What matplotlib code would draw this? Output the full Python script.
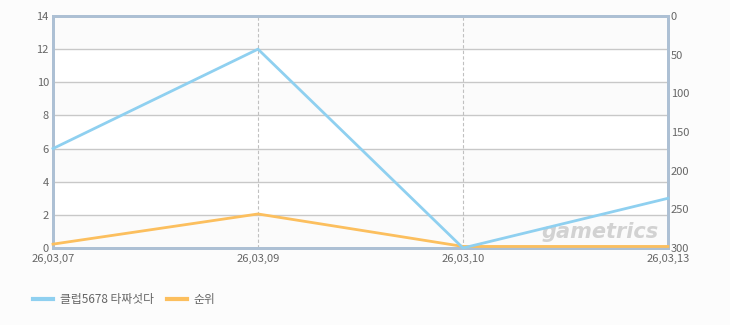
import matplotlib
matplotlib.use("Agg")
import matplotlib.pyplot as plt
from matplotlib.lines import Line2D

plt.rcParams['font.family'] = ['Noto Sans CJK KR', 'DejaVu Sans']

categories = ["26,03,07", "26,03,09", "26,03,10", "26,03,13"]
series_name = "클럽5678 타짜섯다"
series_values = [6, 12, 0, 3]
rank_name = "순위"
rank_values = [295, 256, 298, 298]
left_ticks = [0, 2, 4, 6, 8, 10, 12, 14]
right_ticks = [0, 50, 100, 150, 200, 250, 300]

blue = "#8fd0f0"
orange = "#fcbf5e"
spine_c = "#adc0d4"
txt_c = "#666666"

fig = plt.figure(figsize=(7.3, 3.25), dpi=100, facecolor="#fcfcfc")
ax = fig.add_axes([53/730, 1-248/325, 615/730, 232/325])
ax.set_facecolor("#fbfbfb")
x = list(range(len(categories)))
ax.set_xlim(0, len(categories)-1)
ax.set_ylim(0, 14)

for i in range(0, 14, 2):
    if (i // 2) % 2 == 1:
        ax.axhspan(i, i+2, color="white", zorder=0, lw=0)
for t in left_ticks[1:-1]:
    ax.axhline(t, color="#c8c8c8", lw=1, zorder=1)
for xi in x[1:-1]:
    ax.axvline(xi, color="#c0c0c0", lw=0.8, ls=(0, (3, 2)), zorder=1)

ax.set_yticks(left_ticks)
ax.set_xticks(x)
ax.set_xticklabels(categories)
ax.tick_params(axis='x', length=0, labelsize=8, colors=txt_c, pad=4)
ax.tick_params(axis='y', length=0, labelsize=8, colors=txt_c, pad=3)
for s in ax.spines.values():
    s.set_color(spine_c)
    s.set_linewidth(2)

ax.text(0.89, 0.069, "gametrics", transform=ax.transAxes, fontsize=15,
        style="italic", fontweight="bold", color="#d2d2d2", ha="center",
        va="center", family="DejaVu Sans", zorder=2)

ax2 = ax.twinx()
ax2.set_ylim(300, 0)
ax2.set_yticks(right_ticks)
ax2.tick_params(axis='y', length=0, labelsize=8, colors=txt_c, pad=2)
for s in ax2.spines.values():
    s.set_color(spine_c)
    s.set_linewidth(2)
ax2.patch.set_visible(False)

ax2.plot(x, rank_values, color=orange, lw=2, zorder=3, clip_on=False)
ax2.plot(x, series_values, color=blue, lw=2, zorder=4, clip_on=False,
         transform=ax.transData)

handles = [Line2D([0], [0], color=blue, lw=3), Line2D([0], [0], color=orange, lw=3)]
fig.legend(handles, [series_name, rank_name], loc="center left",
           bbox_to_anchor=(22/730, 1-300/325), ncol=2, frameon=False,
           fontsize=8.5, labelcolor=txt_c, handlelength=1.7, columnspacing=1.1,
           handletextpad=0.6)

fig.savefig("out.png", dpi=100, facecolor=fig.get_facecolor())
